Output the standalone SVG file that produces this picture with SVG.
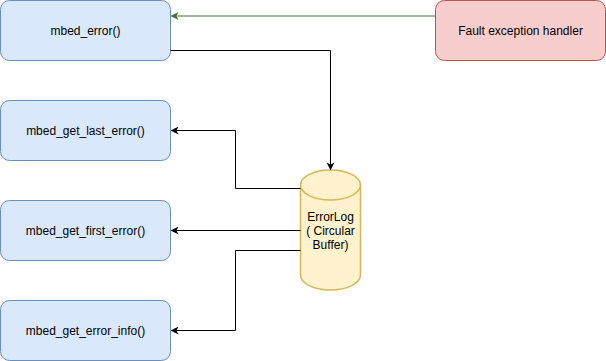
<svg xmlns="http://www.w3.org/2000/svg" width="606" height="361" viewBox="0 0 606 361">
<style>
.blue{fill:#dae8fc;stroke:#6c8ebf;stroke-width:1}
.red{fill:#f8cecc;stroke:#b85450;stroke-width:1}
.yel{fill:#fff2cc;stroke:#d6b656;stroke-width:1.5}
text{font-family:"Liberation Sans",Arial,sans-serif;font-size:12px;fill:#000;text-anchor:middle}
.c{fill:none;stroke:#000;stroke-width:1}
.g{fill:none;stroke:#4d6b3a;stroke-width:1}
</style>
<defs>
<marker id="ab" viewBox="0 0 10 10" refX="9" refY="5" markerWidth="8" markerHeight="8" markerUnits="userSpaceOnUse" orient="auto"><path d="M0,0 L10,5 L0,10 L3,5 Z" fill="#000"/></marker>
<marker id="ag" viewBox="0 0 10 10" refX="9" refY="5" markerWidth="8" markerHeight="8" markerUnits="userSpaceOnUse" orient="auto"><path d="M0,0 L10,5 L0,10 L3,5 Z" fill="#4d6b3a"/></marker>
</defs>
<rect width="606" height="361" fill="#fff"/>
<g id="mbed_error"><rect class="blue" x="0.5" y="0.5" width="170" height="60" rx="9"/><text x="85.5" y="35">mbed_error()</text></g>
<g id="get_last"><rect class="blue" x="0.5" y="100.5" width="170" height="60" rx="9"/><text x="85.5" y="135">mbed_get_last_error()</text></g>
<g id="get_first"><rect class="blue" x="0.5" y="200.5" width="170" height="60" rx="9"/><text x="85.5" y="235">mbed_get_first_error()</text></g>
<g id="get_info"><rect class="blue" x="0.5" y="300.5" width="170" height="60" rx="9"/><text x="85.5" y="335">mbed_get_error_info()</text></g>
<g id="fault"><rect class="red" x="435.5" y="0.5" width="170" height="60" rx="9"/><text x="520.5" y="35">Fault exception handler</text></g>
<g id="errorlog">
<path class="yel" d="M300.5,185 A30,15 0 0 1 360.5,185 L360.5,275 A30,15 0 0 1 300.5,275 Z"/>
<path class="yel" fill="none" d="M300.5,185 A30,15 0 0 0 360.5,185"/>
<text x="330.5" y="221">ErrorLog</text>
<text x="330.5" y="235">( Circular</text>
<text x="330.5" y="249">Buffer)</text>
</g>
<g id="connectors">
<path class="g" d="M435.5,16 L171.5,16" marker-end="url(#ag)"/>
<path class="c" d="M170.5,50.5 L330.5,50.5 L330.5,169.5" marker-end="url(#ab)"/>
<path class="c" d="M300.5,188.5 L235.5,188.5 L235.5,130.5 L171.5,130.5" marker-end="url(#ab)"/>
<path class="c" d="M300.5,230.5 L171.5,230.5" marker-end="url(#ab)"/>
<path class="c" d="M300.5,250.5 L235.5,250.5 L235.5,330.5 L171.5,330.5" marker-end="url(#ab)"/>
</g>
</svg>
